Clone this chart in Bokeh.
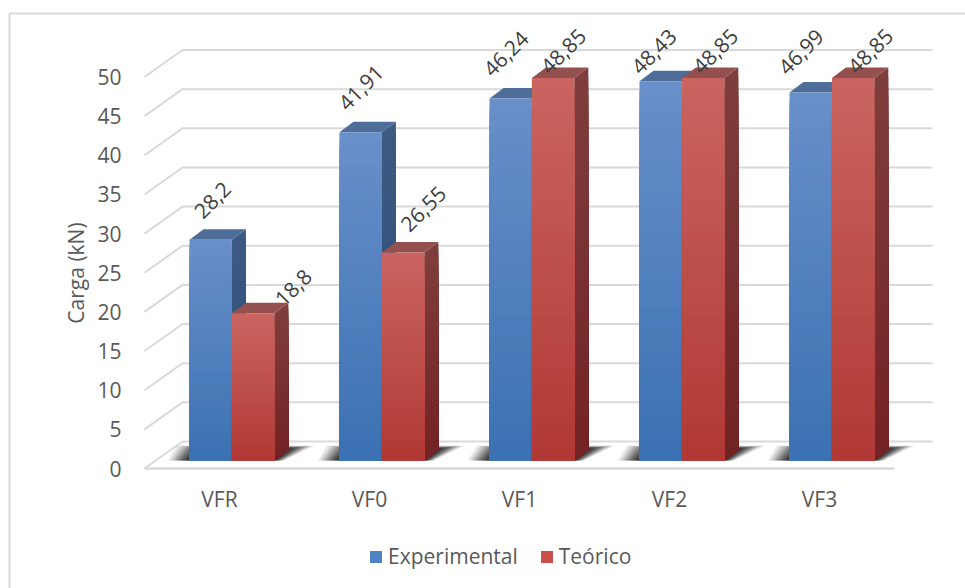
from bokeh.plotting import figure
from bokeh.models import Range1d, FixedTicker, Legend, LegendItem, BoxAnnotation
from bokeh.embed import file_html
from bokeh.resources import INLINE
from bokeh.core.properties import value
import numpy as np

categories = ["VFR", "VF0", "VF1", "VF2", "VF3"]
experimental = [28.2, 41.91, 46.24, 48.43, 46.99]
teorico = [18.8, 26.55, 48.85, 48.85, 48.85]
exp_labels = ["28,2", "41,91", "46,24", "48,43", "46,99"]
teo_labels = ["18,8", "26,55", "48,85", "48,85", "48,85"]
y_ticks = [0, 5, 10, 15, 20, 25, 30, 35, 40, 45, 50]

FONT = "Open Sans"
W, H = 965, 588
PX, PY = 150.0, 7.83       # pixels per category / per kN
AX_L, AX_B = 144, 468      # canvas position of x=-0.5, y=0
fx = lambda px: px / PX
fy = lambda px: px / PY
x_start = -0.5 - fx(AX_L)
y_start = -fy(H - AX_B)

p = figure(width=W, height=H, output_backend="svg", toolbar_location=None,
           x_range=Range1d(x_start, x_start + fx(W)),
           y_range=Range1d(y_start, y_start + fy(H)),
           min_border_left=0, min_border_right=0, min_border_top=0, min_border_bottom=0)
p.grid.visible = False
p.outline_line_color = None

wall_dx, wall_dy = fx(38), fy(27)
bar_dx, bar_dy = fx(14), fy(10.5)
bar_w = fx(42.4)
floor_y = fy(8)
offset = fx(-30)           # blue bar's left edge relative to its category label

GRID = "#d9d9d9"
for v in y_ticks:
    p.line([-0.5, -0.5 + wall_dx, -0.5 + wall_dx + 5], [v, v + wall_dy, v + wall_dy],
           line_color=GRID, line_width=2)
p.line([-0.5, 4.5], [0, 0], line_color=GRID, line_width=2.5)


def blend(a, b, t):
    return "#%02x%02x%02x" % tuple(round(a[i] + (b[i] - a[i]) * t) for i in range(3))


def draw_shadow(x0, x1):
    xs, ys, alphas = [], [], []
    for g, a in ((24, 0.10), (21, 0.14), (18, 0.18), (15, 0.22), (12, 0.26), (9, 0.30),
                 (6, 0.36), (3, 0.44), (0, 0.55)):
        h = fy(12 + g * 0.12)
        xs.append([x0 - fx(0.9 * g), x0 + fx(14 - 1.1 * g), x1 + fx(14 + 1.1 * g), x1 + fx(0.4 * g)])
        ys.append([floor_y, floor_y + h, floor_y + h, floor_y])
        alphas.append(a)
    p.patches(xs, ys, fill_color="#202020", fill_alpha=alphas, line_color=None)


def draw_bar(x0, v, front_top, front_bot, side_top, side_bot, roof):
    x1 = x0 + bar_w
    ts = np.linspace(1, 0, 41)[:-1]
    tops = floor_y + v * ts
    p.patches([[x1, x1 + bar_dx, x1 + bar_dx, x1] for _ in ts],
              [[floor_y, floor_y + bar_dy, y + bar_dy, y] for y in tops],
              fill_color=[blend(side_bot, side_top, t) for t in ts], line_color=None)
    p.patch([x0, x0 + bar_dx, x1 + bar_dx, x1],
            [floor_y + v, floor_y + v + bar_dy, floor_y + v + bar_dy, floor_y + v],
            fill_color=roof, line_color=None)
    p.quad(left=x0, right=x1, bottom=floor_y, top=tops,
           fill_color=[blend(front_bot, front_top, t) for t in ts], line_color=None)


BLUE_T, BLUE_B = (104, 143, 201), (58, 113, 178)
RED_T, RED_B = (201, 100, 96), (176, 56, 52)
BSIDE_T, BSIDE_B = (60, 90, 130), (44, 76, 120)
RSIDE_T, RSIDE_B = (126, 62, 60), (116, 34, 36)

for i in range(len(categories)):
    draw_shadow(i + offset, i + offset + 2 * bar_w)
for i, (e, t) in enumerate(zip(experimental, teorico)):
    draw_bar(i + offset, e, BLUE_T, BLUE_B, BSIDE_T, BSIDE_B, "#4f6d99")
    draw_bar(i + offset + bar_w, t, RED_T, RED_B, RSIDE_T, RSIDE_B, "#94504e")

# data labels, each nudged off its bar the way the original chart placed it
exp_nudge = [(1.5, -40), (0, -45), (-5, -45), (-7, -30), (-10, -41)]
teo_nudge = [(40, -26), (20, -44), (10, -27), (12, -27), (17, -27)]
rot = np.deg2rad(45)
for i in range(len(categories)):
    rows = ((i + offset + bar_w * 0.5, experimental[i], exp_labels[i], exp_nudge[i]),
            (i + offset + bar_w * 1.5, teorico[i], teo_labels[i], teo_nudge[i]))
    for xc, v, s, (dx, dy) in rows:
        p.text([xc], [floor_y + v], text=[s], angle=rot, x_offset=dx, y_offset=dy,
               text_font=value(FONT), text_font_size="21px", text_color="#404040",
               text_align="center", text_baseline="middle")

# axes, pinned inside the full-canvas frame
yax = p.yaxis[0]
yax.fixed_location = -0.5
yax.bounds = (0, 50)
yax.ticker = FixedTicker(ticks=y_ticks)
yax.axis_line_color = None
yax.major_tick_line_color = None
yax.minor_tick_line_color = None
yax.major_label_standoff = 17
yax.major_label_text_font = FONT
yax.major_label_text_font_size = "21px"
yax.major_label_text_color = "#595959"
yax.axis_label = "Carga (kN)"
yax.axis_label_text_font = FONT
yax.axis_label_text_font_style = "normal"
yax.axis_label_text_font_size = "21px"
yax.axis_label_text_color = "#595959"
yax.axis_label_standoff = 4

xax = p.xaxis[0]
xax.fixed_location = 0
xax.ticker = FixedTicker(ticks=list(range(len(categories))))
xax.major_label_overrides = {i: c for i, c in enumerate(categories)}
xax.axis_line_color = None
xax.major_tick_line_color = None
xax.minor_tick_line_color = None
xax.major_label_standoff = 10
xax.major_label_text_font = FONT
xax.major_label_text_font_size = "21px"
xax.major_label_text_color = "#595959"

# chart border: only its top and left edges fall inside the picture
p.add_layout(BoxAnnotation(left=9, right=W + 20, top=13, bottom=H + 20,
                           left_units="canvas", right_units="canvas",
                           top_units="canvas", bottom_units="canvas",
                           fill_color=None, line_color=GRID, line_alpha=1, line_width=2))

# legend
r1 = p.quad(left=[0], right=[0], bottom=[0], top=[0], fill_color="#5083c6", line_color=None)
r2 = p.quad(left=[0], right=[0], bottom=[0], top=[0], fill_color="#c9504d", line_color=None)
leg = Legend(items=[LegendItem(label="Experimental", renderers=[r1]),
                    LegendItem(label="Teórico", renderers=[r2])],
             orientation="horizontal", border_line_color=None, background_fill_color=None,
             background_fill_alpha=0,
             label_text_font=FONT, label_text_font_size="21px", label_text_color="#595959",
             glyph_width=15, glyph_height=15, label_standoff=5, spacing=21, padding=0, margin=0,
             location=(368, 18))
p.add_layout(leg, "center")

open("out.html", "w").write(file_html(p, INLINE))
